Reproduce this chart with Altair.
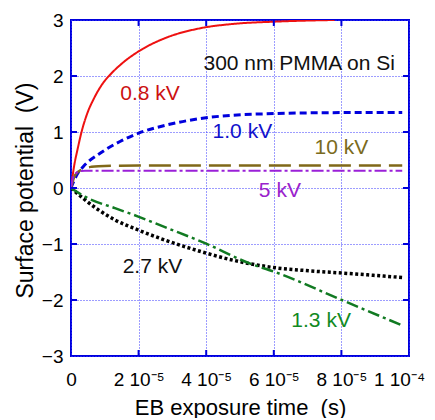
import json
import altair as alt
import pandas as pd

# ---- data (time in microseconds, potential in V) ----
red_t = [0, 1.0, 1.9, 3.2, 4.8, 6.8, 9.2, 12.0, 15.0, 20.0, 28.0, 38.0, 48.0, 60.0, 70.0, 78.0]
red_v = [0, 0.42, 0.68, 1.02, 1.33, 1.60, 1.85, 2.05, 2.22, 2.44, 2.68, 2.85, 2.93, 2.97, 2.99, 3.0]

blue_t = [0, 1.7, 3.6, 8.6, 14.5, 20.0, 28.3, 38.2, 48.0, 61.0, 75.0, 98.0]
blue_v = [0, 0.23, 0.38, 0.62, 0.83, 0.98, 1.125, 1.24, 1.30, 1.33, 1.345, 1.35]

olive_t = [0, 1.2, 3.2, 6.1, 8.1, 20.0, 98.0]
olive_v = [0, 0.23, 0.33, 0.38, 0.39, 0.40, 0.40]

purple_t = [0, 0.7, 2.2, 4.1, 10.0, 98.0]
purple_v = [0, 0.20, 0.29, 0.31, 0.31, 0.31]

black_t = [0, 4.1, 8.1, 13.0, 19.9, 27.8, 38.7, 48.0, 59.9, 70.7, 80.6, 98.2]
black_v = [0, -0.21, -0.39, -0.57, -0.75, -0.93, -1.14, -1.29, -1.42, -1.48, -1.52, -1.60]

green_t = [0, 4.1, 13.0, 19.9, 27.8, 39.1, 53.0, 59.9, 80.1, 97.8]
green_v = [0, -0.155, -0.36, -0.51, -0.70, -0.97, -1.35, -1.49, -2.0, -2.45]

series_names = ["0.8 kV", "1.0 kV", "10 kV", "5 kV", "2.7 kV", "1.3 kV"]
series_t = [red_t, blue_t, olive_t, purple_t, black_t, green_t]
series_v = [red_v, blue_v, olive_v, purple_v, black_v, green_v]
series_color = ["#ee1111", "#0000dd", "#806818", "#9a20d8", "#000000", "#117a22"]
series_dash = [[1, 0], [7, 4], [22, 8], [12, 3, 3, 3], [3, 2.5], [12, 4, 3, 4]]
series_width = [2, 3, 2.5, 2, 3.5, 2.5]

label_text = ["300 nm PMMA on Si", "0.8 kV", "1.0 kV", "10 kV", "5 kV", "2.7 kV", "1.3 kV"]
label_t = [67.5, 23.4, 50.7, 80.0, 61.8, 24.1, 74.0]
label_v = [2.107, 1.571, 0.893, 0.607, -0.161, -1.518, -2.482]
label_color = ["#111111", "#cc1111", "#1111cc", "#7a6a20", "#9a22cc", "#111111", "#118a22"]

x_tick_values = [0, 2e-5, 4e-5, 6e-5, 8e-5, 1e-4]
x_tick_labels = ["0", "2 10\u207b\u2075", "4 10\u207b\u2075", "6 10\u207b\u2075", "8 10\u207b\u2075", "1 10\u207b\u2074"]
y_tick_values = [-3, -2, -1, 0, 1, 2, 3]
inner_x_ticks = [2e-5, 4e-5, 6e-5, 8e-5]
inner_y_ticks = [-2, -1, 0, 1, 2]

W, H = 338, 336
FONT = "Arial, Liberation Sans, sans-serif"
AXIS_BLUE = "#0000dd"

xs = alt.Scale(domain=[0, 1e-4], nice=False, zero=False)
ys = alt.Scale(domain=[-3, 3], nice=False, zero=False)

label_expr = json.dumps(x_tick_labels) + "[round(datum.value / 2e-5)]"

x_axis = alt.Axis(
    values=x_tick_values, labelExpr=label_expr, title="EB exposure time\u00a0 (s)",
    grid=True, ticks=False, tickSize=0, domain=False, labelPadding=14,
    labelFontSize=19, labelFont=FONT, labelColor="#000000", labelFlush=False,
    labelOffset={"condition": {"test": "datum.value > 9.9e-5", "value": -10}, "value": 0},
    titleFontSize=22, titleFont=FONT, titleFontWeight="normal", titleColor="#000000",
    titleX=169, titleY=58, titleBaseline="alphabetic", titleAlign="center",
)
y_axis = alt.Axis(
    values=y_tick_values, format="d", title="Surface potential\u00a0 (V)",
    grid=True, ticks=False, tickSize=0, domain=False, labelPadding=8,
    labelFontSize=19, labelFont=FONT, labelColor="#000000", labelFlush=False,
    titleFontSize=23, titleFont=FONT, titleFontWeight="normal", titleColor="#000000",
    titleX=-39, titleY=170, titleAngle=270, titleBaseline="alphabetic", titleAlign="center",
)


def X():
    return alt.X("t:Q", scale=xs, axis=x_axis)


def Y():
    return alt.Y("v:Q", scale=ys, axis=y_axis)


layers = []
for i, name in enumerate(series_names):
    df = pd.DataFrame({"t": [v * 1e-6 for v in series_t[i]], "v": series_v[i]})
    line = alt.Chart(df).mark_line(
        color=series_color[i], strokeDash=series_dash[i], strokeWidth=series_width[i],
        interpolate="monotone", clip=True,
    ).encode(x=X(), y=Y())
    layers.append(line)

lab_df = pd.DataFrame({
    "t": [v * 1e-6 for v in label_t], "v": label_v, "text": label_text, "c": label_color,
})
labels = alt.Chart(lab_df).mark_text(
    fontSize=21, font=FONT, align="center", baseline="alphabetic"
).encode(
    x=X(), y=Y(),
    text="text:N",
    color=alt.Color("c:N", scale=None),
)
layers.append(labels)

# inward ticks on all four sides
xt_df = pd.DataFrame({"t": inner_x_ticks})
yt_df = pd.DataFrame({"v": inner_y_ticks})
tick_bottom = alt.Chart(xt_df).mark_rule(color=AXIS_BLUE, strokeWidth=2).encode(
    x=X(), y=alt.value(H - 6), y2=alt.value(H))
tick_top = alt.Chart(xt_df).mark_rule(color=AXIS_BLUE, strokeWidth=2).encode(
    x=X(), y=alt.value(0), y2=alt.value(6))
tick_left = alt.Chart(yt_df).mark_rule(color=AXIS_BLUE, strokeWidth=2).encode(
    y=Y(), x=alt.value(0), x2=alt.value(6))
tick_right = alt.Chart(yt_df).mark_rule(color=AXIS_BLUE, strokeWidth=2).encode(
    y=Y(), x=alt.value(W - 6), x2=alt.value(W))
layers += [tick_bottom, tick_top, tick_left, tick_right]

chart = alt.layer(*layers).properties(
    width=W, height=H,
    autosize=alt.AutoSizeParams(type="none"),
    padding={"left": 63, "top": 12, "right": 18, "bottom": 62},
    background="white",
).configure_view(
    stroke=AXIS_BLUE, strokeWidth=2,
).configure_axis(
    gridColor="#3a3aff", gridDash=[1, 2], gridWidth=1, gridOpacity=1,
)

chart.save("out.html", embed_options={"renderer": "svg", "actions": False})
